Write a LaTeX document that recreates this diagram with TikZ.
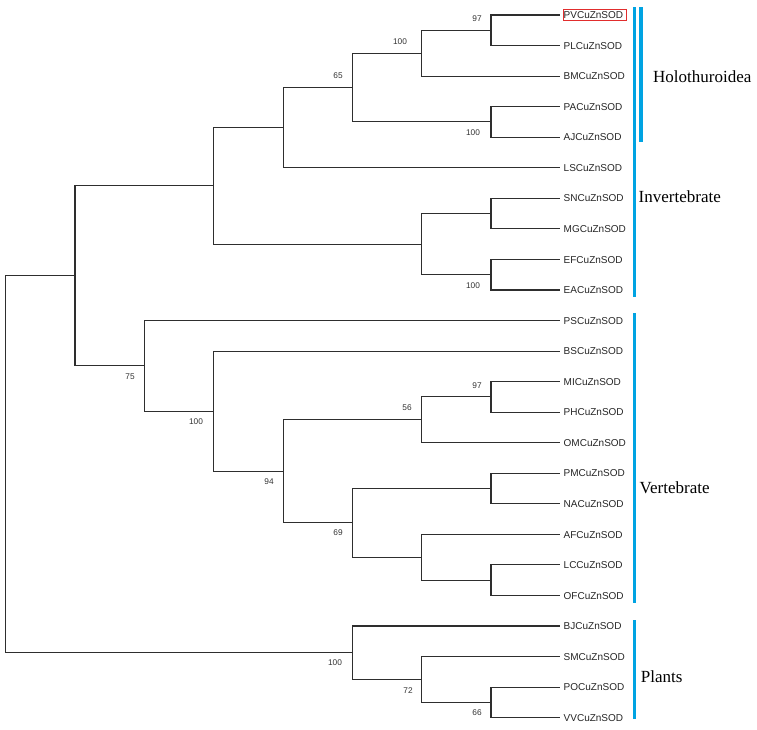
\documentclass[tikz,border=0pt]{standalone}
\usepackage{fontspec}
\newfontfamily\lsans{Liberation Sans}
\newfontfamily\lserif{Liberation Serif}
\definecolor{barblue}{RGB}{0,163,226}
\definecolor{boxred}{RGB}{225,45,45}
\tikzset{
  br/.style={draw=black!82, line width=1.1pt, line cap=rect},
  leaf/.style={anchor=west, inner xsep=4pt, inner ysep=2pt, text height=7.3pt, text depth=0pt,
    font=\lsans\fontsize{10}{12}\selectfont, text=black!85},
  bsv/.style={inner sep=0pt, font=\lsans\fontsize{8.3}{10}\selectfont, text=black!80},
  grp/.style={anchor=west, inner sep=0pt, font=\lserif\fontsize{17}{20}\selectfont},
  bar/.style={draw=barblue, line width=3.4pt},
  redbox/.style={draw=boxred, line width=0.8pt}
}
\begin{document}
\begin{tikzpicture}[x=1pt,y=-1pt]
\useasboundingbox[fill=white] (0,0) rectangle (757,730);
% leaves
\foreach \nm [count=\i from 0] in {PV,PL,BM,PA,AJ,LS,SN,MG,EF,EA,PS,BS,MI,PH,OM,PM,NA,AF,LC,OF,BJ,SM,PO,VV}
  {\node[leaf] (\nm) at (559.5,{15+30.55*\i}) {\nm CuZnSOD};}
% internal nodes
\coordinate (n1) at (491,30.275);
\coordinate (n2) at (421.7,53.19);
\coordinate (n3) at (491,121.93);
\coordinate (n4) at (352.3,87.56);
\coordinate (n5) at (283.3,127.65);
\coordinate (n6) at (491,213.575);
\coordinate (n7) at (491,274.675);
\coordinate (n8) at (421.7,244.125);
\coordinate (n9) at (213.3,185.89);
\coordinate (n13) at (491,396.875);
\coordinate (n14) at (421.7,419.79);
\coordinate (n15) at (491,488.525);
\coordinate (n16) at (491,580.175);
\coordinate (n17) at (421.7,557.26);
\coordinate (n18) at (352.3,522.89);
\coordinate (n12) at (283.3,471.34);
\coordinate (n11) at (213.3,411.2);
\coordinate (n10) at (144.3,365.85);
\coordinate (nA) at (75,275.87);
\coordinate (nR) at (491,702.375);
\coordinate (nQ) at (421.7,679.46);
\coordinate (nP) at (352.3,652.73);
\coordinate (root) at (5.7,464.3);
% branches
\draw[br] (n1) |- (PV.west); \draw[br] (n1) |- (PL.west);
\draw[br] (n2) |- (n1); \draw[br] (n2) |- (BM.west);
\draw[br] (n3) |- (PA.west); \draw[br] (n3) |- (AJ.west);
\draw[br] (n4) |- (n2); \draw[br] (n4) |- (n3);
\draw[br] (n5) |- (n4); \draw[br] (n5) |- (LS.west);
\draw[br] (n6) |- (SN.west); \draw[br] (n6) |- (MG.west);
\draw[br] (n7) |- (EF.west); \draw[br] (n7) |- (EA.west);
\draw[br] (n8) |- (n6); \draw[br] (n8) |- (n7);
\draw[br] (n9) |- (n5); \draw[br] (n9) |- (n8);
\draw[br] (n13) |- (MI.west); \draw[br] (n13) |- (PH.west);
\draw[br] (n14) |- (n13); \draw[br] (n14) |- (OM.west);
\draw[br] (n15) |- (PM.west); \draw[br] (n15) |- (NA.west);
\draw[br] (n16) |- (LC.west); \draw[br] (n16) |- (OF.west);
\draw[br] (n17) |- (AF.west); \draw[br] (n17) |- (n16);
\draw[br] (n18) |- (n15); \draw[br] (n18) |- (n17);
\draw[br] (n12) |- (n14); \draw[br] (n12) |- (n18);
\draw[br] (n11) |- (BS.west); \draw[br] (n11) |- (n12);
\draw[br] (n10) |- (PS.west); \draw[br] (n10) |- (n11);
\draw[br] (nA) |- (n9); \draw[br] (nA) |- (n10);
\draw[br] (nR) |- (PO.west); \draw[br] (nR) |- (VV.west);
\draw[br] (nQ) |- (SM.west); \draw[br] (nQ) |- (nR);
\draw[br] (nP) |- (BJ.west); \draw[br] (nP) |- (nQ);
\draw[br] (root) |- (nA); \draw[br] (root) |- (nP);
% bootstrap values
\node[bsv] (b1) at (477,19) {97};
\node[bsv] (b2) at (400,42) {100};
\node[bsv] (b3) at (338,76) {65};
\node[bsv] (b4) at (473,133) {100};
\node[bsv] (b5) at (473,286) {100};
\node[bsv] (b6) at (130,377) {75};
\node[bsv] (b7) at (196,422) {100};
\node[bsv] (b8) at (477,386) {97};
\node[bsv] (b9) at (407,408) {56};
\node[bsv] (b10) at (269,482) {94};
\node[bsv] (b11) at (338,533) {69};
\node[bsv] (b12) at (335,663) {100};
\node[bsv] (b13) at (408,691) {72};
\node[bsv] (b14) at (477,713) {66};
% red box around PV
\draw[redbox] ([xshift=4pt]PV.south west) rectangle ([xshift=-1.3pt]PV.north east);
% group bars
\coordinate (g1t) at (634.3,7.3); \coordinate (g1b) at (634.3,296.7);
\coordinate (g2t) at (641,7.3); \coordinate (g2b) at (641,141.7);
\coordinate (g3t) at (634.5,313.3); \coordinate (g3b) at (634.5,603.3);
\coordinate (g4t) at (634.3,620); \coordinate (g4b) at (634.3,719);
\draw[bar] (g1t) -- (g1b);
\draw[bar] (g2t) -- (g2b);
\draw[bar] (g3t) -- (g3b);
\draw[bar] (g4t) -- (g4b);
% group labels
\node[grp] (holo) at (653,76.7) {Holothuroidea};
\node[grp] (inv) at (638.5,197) {Invertebrate};
\node[grp] (vert) at (639.5,488) {Vertebrate};
\node[grp] (plants) at (640.7,677) {Plants};
\end{tikzpicture}
\end{document}
